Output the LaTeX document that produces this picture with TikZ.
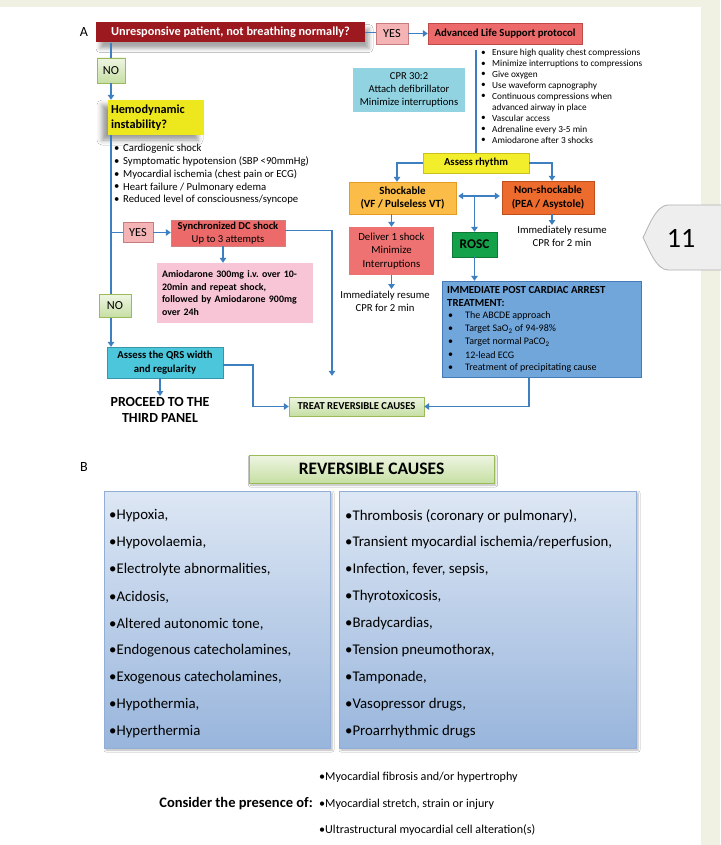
\documentclass[tikz,border=0pt]{standalone}
\usepackage{fontspec}
\setmainfont{Carlito}
\frenchspacing
\usetikzlibrary{arrows.meta,shadows.blur,calc}
\definecolor{beige}{HTML}{F0F0E3}
\definecolor{darkred}{HTML}{9C1A1F}
\definecolor{yespink}{HTML}{F4B3B5}
\definecolor{yesborder}{HTML}{C97C7E}
\definecolor{salmon}{HTML}{EC6B6A}
\definecolor{salmonb}{HTML}{BE4B48}
\definecolor{gtop}{HTML}{EEF5E2}
\definecolor{gbot}{HTML}{C6DFA3}
\definecolor{gborder}{HTML}{9BBB59}
\definecolor{hemoy}{HTML}{EDE71E}
\definecolor{cprc}{HTML}{92D3E2}
\definecolor{assessy}{HTML}{F3EE2C}
\definecolor{assessb}{HTML}{C9C11A}
\definecolor{shockor}{HTML}{FBBD47}
\definecolor{shockb}{HTML}{E39B24}
\definecolor{nonsh}{HTML}{ED6B2D}
\definecolor{nonshb}{HTML}{C04F1C}
\definecolor{roscg}{HTML}{13A14A}
\definecolor{roscb}{HTML}{0C7A36}
\definecolor{delivr}{HTML}{EE7272}
\definecolor{amiop}{HTML}{F7C5D6}
\definecolor{qrsc}{HTML}{4CC6DA}
\definecolor{qrsb}{HTML}{3796A8}
\definecolor{postb}{HTML}{71A6DB}
\definecolor{postbd}{HTML}{4679B8}
\definecolor{linec}{HTML}{3D7FC1}
\definecolor{btop}{HTML}{DDE7F4}
\definecolor{bbot}{HTML}{98B5DC}
\definecolor{bbord}{HTML}{93AED6}
\definecolor{tabg}{HTML}{EEEEEE}
\begin{document}
\begin{tikzpicture}[x=1pt,y=-1pt,
  bx/.style={inner sep=0pt, align=center},
  greenbox/.style={bx, draw=gborder, top color=gtop, bottom color=gbot},
  conn/.style={draw=linec, line width=1.5pt},
  arr/.style={conn, -{Triangle[length=5pt,width=6.5pt]}},
  txt/.style={inner sep=0pt, anchor=west},
  bigitem/.style={inner sep=0pt, anchor=west, font=\fontsize{14.8}{17}\selectfont},
  bluebox/.style={draw=bbord, top color=btop, bottom color=bbot, blur shadow={shadow xshift=2pt, shadow yshift=-2pt, shadow blur radius=2pt, shadow opacity=30}}
]
\useasboundingbox (0,0) rectangle (720,845);
\fill[beige] (0,0) rectangle (720,845);
\fill[white] (0,7) rectangle (701,845);

% page tab
\draw[fill=tabg, draw=gray!60, line width=0.8pt] (722,205) -- (668,205) .. controls (656,205) and (648,228) .. (643,237.5) .. controls (648,247) and (656,270) .. (668,270) -- (722,270);
\node[inner sep=0pt, font=\fontsize{28}{30}\selectfont] (pagenum) at (681,238) {11};

% ---------------- Panel A ----------------
\node[inner sep=0pt, font=\fontsize{14}{16}\selectfont] (labA) at (84,32) {A};
\node[bx, fill=darkred, text=white, minimum width=269pt, minimum height=20pt,
  font=\bfseries\fontsize{12.3}{14}\selectfont,
  blur shadow={shadow xshift=4pt, shadow yshift=-6pt, shadow blur radius=4pt, shadow opacity=35}] (q) at (230.5,32.5) {Unresponsive patient, not breathing normally?};
\node[bx, draw=yesborder, fill=yespink, minimum width=32pt, minimum height=21pt, font=\fontsize{12.3}{14}\selectfont] (yes1) at (392,33.5) {YES};
\node[bx, draw=salmonb, fill=salmon, minimum width=154pt, minimum height=21pt, font=\bfseries\fontsize{10.8}{13}\selectfont] (als) at (505,34) {Advanced Life Support protocol};

\coordinate (lx) at (111,0);
\node[greenbox, minimum width=28pt, minimum height=25pt, font=\fontsize{12.3}{14}\selectfont] (no1) at (111,70.5) {NO};
\node[bx, fill=hemoy, minimum width=96pt, minimum height=35pt, text width=90pt, align=left,
  font=\bfseries\fontsize{12.3}{14.5}\selectfont,
  blur shadow={shadow xshift=-6pt, shadow yshift=-5pt, shadow blur radius=5pt, shadow opacity=40}] (hemo) at (156,117.5) {Hemodynamic\\instability?};

\foreach \t [count=\i] in {Cardiogenic shock, Symptomatic hypotension (SBP <90mmHg), Myocardial ischemia (chest pain or ECG), Heart failure / Pulmonary edema, Reduced level of consciousness/syncope}{
  \node[txt, font=\fontsize{10.7}{12}\selectfont] (hbul\i) at (114,{136.5+12.7*\i}) {•};
  \node[txt, font=\fontsize{10.7}{12}\selectfont] (hitem\i) at (123,{136.5+12.7*\i}) {\t};
}

\node[bx, draw=yesborder, fill=yespink, minimum width=30pt, minimum height=20pt, font=\fontsize{12.3}{14}\selectfont] (yes2) at (138,232.5) {YES};
\node[bx, draw=salmonb!70, fill=salmon, minimum width=114pt, minimum height=26pt, font=\fontsize{10.6}{12.5}\selectfont] (sync) at (228,233) {\textbf{Synchronized DC shock}\\Up to 3 attempts};
\node[bx, fill=amiop, minimum width=156pt, minimum height=60pt, text width=146pt, align=left, font=\bfseries\fontsize{9.9}{12.6}\selectfont] (amio) at (235,293) {Amiodarone 300mg i.v. over 10-\\20min and repeat shock,\\followed by Amiodarone 900mg\\over 24h};
\node[greenbox, minimum width=32pt, minimum height=23pt, font=\fontsize{12.3}{14}\selectfont] (no2) at (115,306) {NO};
\node[bx, draw=qrsb, fill=qrsc, minimum width=116pt, minimum height=31pt, font=\bfseries\fontsize{10.7}{13.5}\selectfont] (qrs) at (165,362.5) {Assess the QRS width\\and regularity};
\node[bx, anchor=north, font=\bfseries\fontsize{13.9}{16}\selectfont] (proceed) at (160,397) {PROCEED TO THE\\THIRD PANEL};
\node[greenbox, minimum width=135pt, minimum height=19pt, font=\bfseries\fontsize{10.6}{12}\selectfont] (treat) at (356.5,406.5) {TREAT REVERSIBLE CAUSES};

% right part
\node[bx, fill=cprc, minimum width=112pt, minimum height=44pt, font=\fontsize{10.6}{12.6}\selectfont] (cpr) at (409,90) {CPR 30:2\\Attach defibrillator\\Minimize interruptions};
\coordinate (brk) at (476,50);
\foreach \b/\t [count=\i] in {1/Ensure high quality chest compressions, 1/Minimize interruptions to compressions, 1/Give oxygen, 1/Use waveform capnography, 1/Continuous compressions when, 0/advanced airway in place, 1/Vascular access, 1/Adrenaline every 3-5 min, 1/Amiodarone after 3 shocks}{
  \ifnum\b=1 \node[txt, font=\fontsize{9.3}{11}\selectfont] (rbul\i) at (481,{42+10.95*\i}) {•};\fi
  \node[txt, font=\fontsize{9.3}{11}\selectfont] (ritem\i) at (492,{42+10.95*\i}) {\t};
}
\node[bx, draw=assessb, fill=assessy, minimum width=106pt, minimum height=20pt, font=\bfseries\fontsize{10.7}{12}\selectfont] (assess) at (476,163) {Assess rhythm};
\node[bx, draw=shockb, fill=shockor, minimum width=107pt, minimum height=32pt, font=\bfseries\fontsize{11}{13.5}\selectfont] (shock) at (402.5,198) {Shockable\\(VF / Pulseless VT)};
\node[bx, draw=nonshb, fill=nonsh, minimum width=92pt, minimum height=33pt, font=\bfseries\fontsize{11}{13.5}\selectfont] (nonshock) at (548,197.5) {Non-shockable\\(PEA / Asystole)};
\node[bx, draw=roscb, fill=roscg, minimum width=45pt, minimum height=25pt, font=\bfseries\fontsize{13.3}{15}\selectfont] (rosc) at (474.5,244.5) {ROSC};
\node[bx, fill=delivr, minimum width=85pt, minimum height=48pt, font=\fontsize{10.8}{13.3}\selectfont] (deliver) at (391.5,251) {Deliver 1 shock\\Minimize\\Interruptions};
\node[bx, anchor=north, font=\fontsize{10.7}{13}\selectfont] (resume1) at (385,291) {Immediately resume\\CPR for 2 min};
\node[bx, anchor=north, font=\fontsize{10.7}{13}\selectfont] (resume2) at (562,226) {Immediately resume\\CPR for 2 min};
\node[bx, draw=postbd, fill=postb, minimum width=199pt, minimum height=96pt] (post) at (541.5,329) {};
\node[txt, font=\bfseries\fontsize{10.8}{12}\selectfont] (posth1) at (447,290) {IMMEDIATE POST CARDIAC ARREST};
\node[txt, font=\bfseries\fontsize{10.8}{12}\selectfont] (posth2) at (447,303) {TREATMENT:};
\foreach \t [count=\i] in {The ABCDE approach, Target SaO\textsubscript{2} of 94-98\%, Target normal PaCO\textsubscript{2}, 12-lead ECG, Treatment of precipitating cause}{
  \node[txt, font=\fontsize{10}{12}\selectfont] (pbul\i) at (448,{303+13*\i}) {•};
  \node[txt, font=\fontsize{10}{12}\selectfont] (pitem\i) at (465,{303+13*\i}) {\t};
}

% connectors panel A
\coordinate (s1) at (223,0);
\coordinate (rx) at (332,0);
\coordinate (qx) at (253,0);
\coordinate (px) at (529,0);
\coordinate (shx) at (397,0);
\coordinate (nsx) at (552,0);
\coordinate (dy) at (0,196);
\coordinate (sy) at (0,230.5);
\coordinate (qy) at (0,365);
\draw[conn] (q.east) -- (q.east -| yes1.west);
\draw[arr] (yes1.east) -- (yes1.east -| als.west);
\draw[conn] (lx |- q.south) -- (no1.north);
\draw[arr] (no1.south) -- (lx |- hemo.north);
\draw[conn] (lx |- hemo.south) -- (lx |- no2.north);
\draw[arr] (lx |- no2.south) -- (lx |- qrs.north);
\draw[conn] (lx |- yes2.west) -- (yes2.west);
\draw[arr] (yes2.east) -- (yes2.east -| sync.west);
\draw[arr] (s1 |- sync.south) -- (s1 |- amio.north);
\draw[arr, shorten >=21pt] (sy -| sync.east) -| (rx |- treat.north);
\draw[arr, shorten >=1pt] (qrs.south -| proceed.north) -- (proceed.north);
\draw[arr] (qy -| qrs.east) -- (qy -| qx) |- (treat.west);
\draw[arr] (px |- post.south) |- (treat.east);

\draw[conn] (brk) -- (brk |- assess.north);
\draw[arr] (assess.west) -| (shx |- shock.north);
\draw[arr] (assess.east) -| (nsx |- nonshock.north);
\draw[conn, {Triangle[length=5pt,width=6.5pt]}-{Triangle[length=5pt,width=6.5pt]}, shorten <=2pt, shorten >=2pt] (dy -| shock.east) -- (dy -| nonshock.west);
\draw[arr] (dy -| rosc.north) -- (rosc.north);
\draw[arr] (deliver.north |- shock.south) -- (deliver.north);
\draw[arr, shorten >=2pt] (deliver.south) -- (deliver.south |- resume1.north);
\draw[arr, shorten >=1pt] (nsx |- nonshock.south) -- (nsx |- resume2.north);
\draw[arr] (rosc.south) -- (rosc.south |- post.north);

% ---------------- Panel B ----------------
\node[inner sep=0pt, font=\fontsize{14}{16}\selectfont] (labB) at (84,467) {B};
\node[greenbox, minimum width=245pt, minimum height=28pt, font=\bfseries\fontsize{17.5}{20}\selectfont,
  blur shadow={shadow xshift=1.5pt, shadow yshift=-2pt, shadow blur radius=2pt, shadow opacity=30}] (rc) at (371.5,469) {REVERSIBLE CAUSES};
\node[bx, bluebox, minimum width=226pt, minimum height=257pt] (lbox) at (217,619.5) {};
\node[bx, bluebox, minimum width=297pt, minimum height=257pt] (rbox) at (487.5,619.5) {};
\foreach \t [count=\i] in {{•Hypoxia,}, {•Hypovolaemia,}, {•Electrolyte abnormalities,}, {•Acidosis,}, {•Altered autonomic tone,}, {•Endogenous catecholamines,}, {•Exogenous catecholamines,}, {•Hypothermia,}, {•Hyperthermia}}{
  \node[bigitem] (li\i) at (109,{489+27*\i}) {\t};
}
\foreach \t [count=\i] in {{•Thrombosis (coronary or pulmonary),}, {•Transient myocardial ischemia/reperfusion,}, {•Infection, fever, sepsis,}, {•Thyrotoxicosis,}, {•Bradycardias,}, {•Tension pneumothorax,}, {•Tamponade,}, {•Vasopressor drugs,}, {•Proarrhythmic drugs}}{
  \node[bigitem] (ri\i) at (345,{489+27*\i}) {\t};
}
\node[inner sep=0pt, anchor=east, font=\bfseries\fontsize{14.5}{16}\selectfont] (consider) at (313,804) {Consider the presence of:};
\node[txt, font=\fontsize{12.1}{14}\selectfont] (c1) at (319,777) {•Myocardial fibrosis and/or hypertrophy};
\node[txt, font=\fontsize{12.1}{14}\selectfont] (c2) at (319,804) {•Myocardial stretch, strain or injury};
\node[txt, font=\fontsize{12.1}{14}\selectfont] (c3) at (319,830) {•Ultrastructural myocardial cell alteration(s)};
\end{tikzpicture}
\end{document}
